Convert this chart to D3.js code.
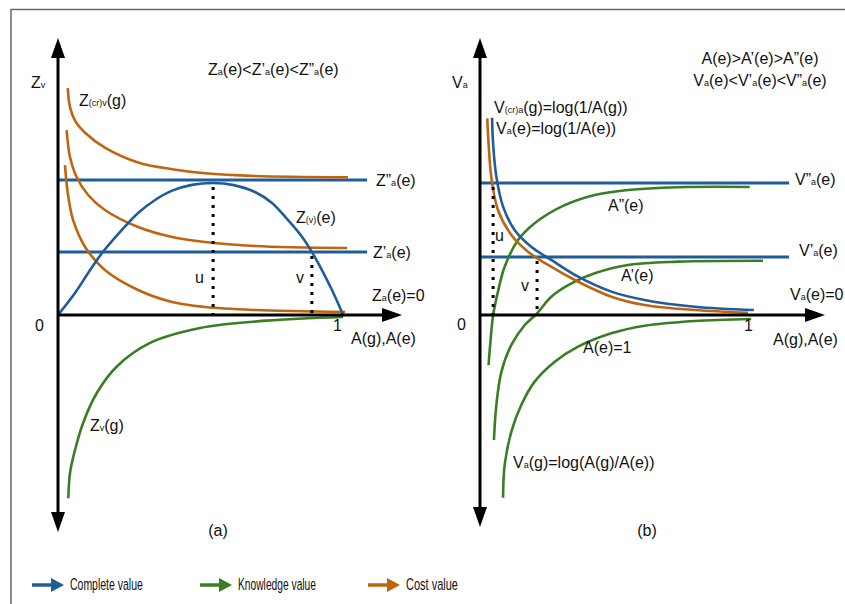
<!DOCTYPE html>
<html>
<head>
<meta charset="utf-8">
<script src="https://cdn.jsdelivr.net/npm/d3@7"></script>
<style>
  body { margin: 0; background: #fff; }
  svg { display: block; font-family: "Liberation Sans", Arial, sans-serif; }
</style>
</head>
<body>
<svg id="chart" width="845" height="604"></svg>
<script>
(function(){
	'use strict';

	var BLUE = '#1f5c99', GREEN = '#3b7d23', ORANGE = '#c0650d';

	// ---- panel (a) data : x = A(g),A(e), y = Z ----
	var zCrv = [[0.035,1.68],[0.043,1.54],[0.061,1.44],[0.097,1.35],[0.168,1.24],[0.287,1.13],[0.409,1.08],[0.527,1.05],[0.706,1.03],[1.039,1.02]];
	var zMid = [[0.031,1.37],[0.043,1.17],[0.067,1.02],[0.108,0.889],[0.168,0.778],[0.287,0.652],[0.409,0.578],[0.527,0.541],[0.706,0.511],[1.036,0.496]];
	var zLow = [[0.025,1.11],[0.035,0.904],[0.054,0.704],[0.097,0.504],[0.168,0.333],[0.287,0.185],[0.409,0.096],[0.527,0.059],[0.706,0.037],[1.029,0.022]];
	var zVg = [[0.037,-1.358],[0.043,-1.17],[0.061,-1.0],[0.090,-0.8],[0.139,-0.578],[0.210,-0.383],[0.330,-0.207],[0.509,-0.096],[0.748,-0.042],[1.022,-0.015]];
	var zVe = [[0,0],[0.061,0.163],[0.108,0.311],[0.158,0.459],[0.229,0.630],[0.287,0.756],[0.348,0.852],[0.409,0.921],[0.480,0.964],[0.556,0.978],[0.630,0.962],[0.706,0.911],[0.767,0.830],[0.824,0.704],[0.875,0.578],[0.910,0.467],[0.946,0.333],[0.982,0.185],[1.022,0]];
	var zLevels = [1.0, 0.467];
	var zDots = [[0.556, 0.978], [0.91, 0.467]];

	// ---- panel (b) data : x = A(g),A(e), y = V ----
	var vCrg = [[0.045,1.495],[0.049,1.295],[0.061,1.048],[0.086,0.821],[0.129,0.644],[0.191,0.517],[0.266,0.417],[0.366,0.290],[0.490,0.177],[0.614,0.114],[0.801,0.063],[1.022,0.038]];
	var vAe = [[0.027,1.490],[0.032,1.301],[0.042,1.048],[0.067,0.795],[0.117,0.606],[0.179,0.480],[0.254,0.379],[0.366,0.252],[0.490,0.139],[0.614,0.076],[0.801,0.038],[1.0,0.017]];
	var vA2 = [[0.032,-0.379],[0.040,-0.177],[0.049,0],[0.067,0.177],[0.092,0.366],[0.142,0.568],[0.204,0.695],[0.304,0.821],[0.428,0.909],[0.552,0.947],[0.739,0.968],[1.006,0.970]];
	var vA1 = [[0.052,-0.947],[0.061,-0.682],[0.080,-0.429],[0.117,-0.227],[0.167,-0.076],[0.213,0.013],[0.266,0.139],[0.341,0.240],[0.428,0.316],[0.552,0.379],[0.739,0.404],[1.056,0.411]];
	var vA0 = [[0.086,-1.384],[0.092,-1.136],[0.117,-0.884],[0.154,-0.682],[0.204,-0.505],[0.279,-0.354],[0.366,-0.240],[0.490,-0.139],[0.614,-0.081],[0.801,-0.045],[1.012,-0.030]];
	var vLevels = [1.0, 0.44];
	var vDots = [[0.049, 1.0], [0.213, 0.44]];

	var legendItems = ['Complete value', 'Knowledge value', 'Cost value'];
	var legendColors = [BLUE, GREEN, ORANGE];

	var svg = d3.select('#chart');

	// frame
	svg.append('path').attr('d', 'M11,604V9.5H845').attr('fill', 'none').attr('stroke', '#666').attr('stroke-width', 1.5);

	function panel(o){
		var x = d3.scaleLinear().domain([0, 1]).range(o.xr);
		var y = d3.scaleLinear().domain([0, 1]).range(o.yr);
		var g = svg.append('g');
		var line = d3.line().x(function(d){ return x(d[0]); }).y(function(d){ return y(d[1]); })
			.curve(d3.curveCatmullRom.alpha(0.5));

		// level lines
		o.levels.forEach(function(v){
			g.append('line').attr('x1', x(0)).attr('x2', x(o.levelEnd)).attr('y1', y(v)).attr('y2', y(v))
				.attr('stroke', BLUE).attr('stroke-width', 3);
		});
		// curves
		o.curves.forEach(function(c){
			g.append('path').attr('d', line(c.data)).attr('fill', 'none')
				.attr('stroke', c.color).attr('stroke-width', 2.6);
		});
		// dotted drops
		o.dots.forEach(function(d){
			g.append('line').attr('x1', x(d[0])).attr('x2', x(d[0])).attr('y1', y(d[1]) + 4).attr('y2', y(0))
				.attr('stroke', '#000').attr('stroke-width', 3).attr('stroke-dasharray', '3,6');
		});
		// axes
		var x0 = x(0), y0 = y(0);
		g.append('line').attr('x1', x0).attr('x2', x0).attr('y1', o.yTop + 18).attr('y2', o.yBot - 18)
			.attr('stroke', '#000').attr('stroke-width', 3);
		g.append('line').attr('x1', x0).attr('x2', o.xEnd - 18).attr('y1', y0).attr('y2', y0)
			.attr('stroke', '#000').attr('stroke-width', 3);
		g.append('path').attr('d', 'M' + x0 + ',' + o.yTop + 'l-7,20h14z');
		g.append('path').attr('d', 'M' + x0 + ',' + o.yBot + 'l-7,-20h14z');
		g.append('path').attr('d', 'M' + o.xEnd + ',' + y0 + 'l-20,-7v14z');
		return {x: x, y: y, g: g};
	}

	// text with small subscript pieces: parts = ['text', ['sub'], ...]
	function label(x, y, parts, anchor){
		var t = svg.append('text').attr('x', x).attr('y', y).attr('font-size', 16)
			.attr('fill', '#111').attr('text-anchor', anchor || 'start');
		parts.forEach(function(p){
			if (typeof p === 'string') t.append('tspan').text(p);
			else t.append('tspan').text(p[0]).attr('font-size', 9);
		});
		return t;
	}

	panel({
		xr: [58, 337], yr: [315, 180], yTop: 38, yBot: 532, xEnd: 402, levelEnd: 1.108,
		levels: zLevels, dots: zDots,
		curves: [
			{data: zCrv, color: ORANGE}, {data: zMid, color: ORANGE}, {data: zLow, color: ORANGE},
			{data: zVg, color: GREEN}, {data: zVe, color: BLUE}
		]
	});

	panel({
		xr: [480, 748], yr: [315, 183], yTop: 38, yBot: 527, xEnd: 825, levelEnd: 1.153,
		levels: vLevels, dots: vDots,
		curves: [
			{data: vA2, color: GREEN}, {data: vA1, color: GREEN}, {data: vA0, color: GREEN},
			{data: vAe, color: ORANGE}, {data: vCrg, color: BLUE}
		]
	});

	// panel (a) labels
	label(31, 88, ['Z', ['v']]);
	label(208, 75, ['Z', ['a'], '(e)<Z\u2019', ['a'], '(e)<Z\u201D', ['a'], '(e)']);
	label(79, 106, ['Z', ['(cr)v'], '(g)']);
	label(376, 186, ['Z\u201D', ['a'], '(e)']);
	label(373, 258, ['Z\u2019', ['a'], '(e)']);
	label(372, 301, ['Z', ['a'], '(e)=0']);
	label(296, 223, ['Z', ['(v)'], '(e)']);
	label(195, 283, ['u']);
	label(296, 283, ['v']);
	label(35, 331, ['0']);
	label(333, 331, ['1']);
	label(351, 344, ['A(g),A(e)']);
	label(90, 431, ['Z', ['v'], '(g)']);
	label(218, 536, ['(a)'], 'middle');

	// panel (b) labels
	label(452, 88, ['V', ['a']]);
	label(760, 64, ['A(e)>A\u2019(e)>A\u201D(e)'], 'middle');
	label(760, 86, ['V', ['a'], '(e)<V\u2019', ['a'], '(e)<V\u201D', ['a'], '(e)'], 'middle');
	label(494, 113, ['V', ['(cr)a'], '(g)=log(1/A(g))']);
	label(496, 134, ['V', ['a'], '(e)=log(1/A(e))']);
	label(795, 185, ['V\u201D', ['a'], '(e)']);
	label(799, 256, ['V\u2019', ['a'], '(e)']);
	label(790, 300, ['V', ['a'], '(e)=0']);
	label(495, 241, ['u']);
	label(521, 291, ['v']);
	label(457, 330, ['0']);
	label(744, 331, ['1']);
	label(773, 345, ['A(g),A(e)']);
	label(608, 211, ['A\u201D(e)']);
	label(621, 281, ['A\u2019(e)']);
	label(583, 353, ['A(e)=1']);
	label(513, 468, ['V', ['a'], '(g)=log(A(g)/A(e))']);
	label(647, 536, ['(b)'], 'middle');

	// legend
	var legendX = d3.scalePoint().domain(legendItems).range([32, 368]);
	var lg = svg.selectAll('g.legend').data(legendItems).enter().append('g')
		.attr('class', 'legend')
		.attr('transform', function(d){ return 'translate(' + legendX(d) + ',585)'; });
	lg.append('line').attr('x1', 0).attr('x2', 22).attr('y1', 0).attr('y2', 0)
		.attr('stroke', function(d, i){ return legendColors[i]; }).attr('stroke-width', 3.5);
	lg.append('path').attr('d', 'M32,0l-13,-7v14z').attr('fill', function(d, i){ return legendColors[i]; });
	lg.append('text').attr('x', 38).attr('y', 5).attr('font-size', 17).attr('fill', '#111')
		.attr('textLength', function(d){ return d.length * 5.2; }).attr('lengthAdjust', 'spacingAndGlyphs')
		.text(function(d){ return d; });

})();
</script>
</body>
</html>
